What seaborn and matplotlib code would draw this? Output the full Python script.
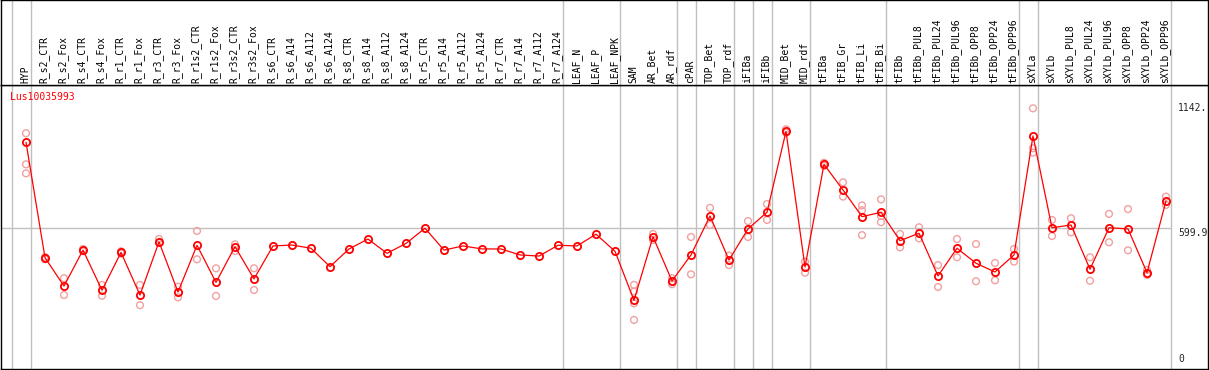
import matplotlib
matplotlib.use("Agg")
import matplotlib.pyplot as plt
import pandas as pd
import seaborn as sns

# sample names, mean expression and replicate values
samples = [
    "HYP", "R_s2_CTR", "R_s2_Fox", "R_s4_CTR", "R_s4_Fox", "R_r1_CTR", "R_r1_Fox",
    "R_r3_CTR", "R_r3_Fox", "R_r1s2_CTR", "R_r1s2_Fox", "R_r3s2_CTR", "R_r3s2_Fox",
    "R_s6_CTR", "R_s6_A14", "R_s6_A112", "R_s6_A124", "R_s8_CTR", "R_s8_A14",
    "R_s8_A112", "R_s8_A124", "R_r5_CTR", "R_r5_A14", "R_r5_A112", "R_r5_A124",
    "R_r7_CTR", "R_r7_A14", "R_r7_A112", "R_r7_A124", "LEAF_N", "LEAF_P", "LEAF_NPK",
    "SAM", "AR_Bet", "AR_rdf", "cPAR", "TOP_Bet", "TOP_rdf", "iFIBa", "iFIBb",
    "MID_Bet", "MID_rdf", "tFIBa", "tFIB_Gr", "tFIB_Li", "tFIB_Bi", "tFIBb",
    "tFIBb_PUL8", "tFIBb_PUL24", "tFIBb_PUL96", "tFIBb_OPP8", "tFIBb_OPP24",
    "tFIBb_OPP96", "sXYLa", "sXYLb", "sXYLb_PUL8", "sXYLb_PUL24", "sXYLb_PUL96",
    "sXYLb_OPP8", "sXYLb_OPP24", "sXYLb_OPP96",
]

mean_values = [
    973, 472, 349, 505, 331, 495, 310, 541, 323, 526, 365, 520, 380,
    523, 527, 513, 433, 510, 553, 491, 534, 600, 505, 523, 510,
    510, 484, 479, 526, 523, 574, 500,
    287, 563, 371, 484, 653, 462, 597, 669,
    1020, 432, 877, 766, 650, 669, 546,
    578, 393, 513, 448, 410, 484,
    1000, 602, 614, 422, 602, 597, 407, 718,
]

replicates = [
    [1012, 877, 838], [475, 466], [383, 310], [510, 500], [354, 307], [500, 490],
    [354, 266], [553, 536], [346, 300], [588, 465], [426, 306], [530, 501], [426, 332],
    [], [], [], [], [], [], [], [], [], [], [], [],
    [], [], [], [], [], [], [],
    [354, 325, 274, 202], [575, 549], [383, 357], [562, 400], [688, 614], [481, 440],
    [631, 562], [705, 636],
    [1029, 1014], [455, 407], [884, 870], [799, 737], [699, 678, 570], [725, 653, 626],
    [575, 517],
    [604, 556], [440, 345], [553, 474], [531, 370], [449, 374], [510, 455],
    [1120, 947, 928], [636, 566], [643, 582], [474, 372], [662, 539], [683, 504],
    [397, 419], [737, 701],
]

# group separators: after these sample positions
group_ends = [-1, 0, 28, 31, 34, 35, 37, 38, 39, 41, 45, 52, 53, 60]

gene_id = "Lus10035993"
axis_marks = [1142.0, 599.9]

mean_df = pd.DataFrame({"pos": range(len(samples)), "value": mean_values})
rep_df = pd.DataFrame(
    [(i, v) for i, reps in enumerate(replicates) for v in reps],
    columns=["pos", "value"],
)

W, H = 1209, 370
fig = plt.figure(figsize=(W / 100, H / 100), dpi=100)
sns.set_style("white")
plt.rcParams["font.family"] = ["DejaVu Sans Mono"]

grey = "#c0c0c0"
red = "#ff0000"
pink = "#f0a0a0"

xmin, xmax = (1 - 26) / 19, (1208 - 26) / 19
top_px, bot_px = 85, 369
ax = fig.add_axes([1 / W, (H - bot_px) / H, 1207 / W, (bot_px - top_px) / H])
hax = fig.add_axes([1 / W, (H - top_px) / H, 1207 / W, top_px / H])

# value -> pixel: y = 366.5 - 0.2305 * v
ymin = (366.5 - bot_px) / 0.2305
ymax = (366.5 - top_px) / 0.2305

for a in (ax, hax):
    a.set_xlim(xmin, xmax)
    a.set_xticks([])
    a.set_yticks([])
    for s in a.spines.values():
        s.set_color("black")
        s.set_linewidth(1.0)
    for g in group_ends:
        a.axvline(g + 0.25, color=grey, lw=1.0, zorder=0)
hax.set_ylim(0, 1)

ax.hlines(axis_marks[1], xmin, group_ends[-1] + 0.25, color=grey, lw=1.0, zorder=0)

sns.scatterplot(data=rep_df, x="pos", y="value", ax=ax, marker="o", s=24,
                facecolors="none", edgecolor=pink, linewidth=1.0, zorder=2)
sns.lineplot(data=mean_df, x="pos", y="value", ax=ax, color=red, lw=0.9,
             marker="o", markersize=5.2, markerfacecolor="none",
             markeredgecolor=red, markeredgewidth=1.3, zorder=3)
ax.set_xlabel("")
ax.set_ylabel("")
ax.set_xlim(xmin, xmax)
ax.set_ylim(ymin, ymax)

for i, name in enumerate(samples):
    hax.text(i - 0.05, 2 / top_px, name, rotation=90, ha="center", va="bottom",
             fontsize=7, color="black")

ax.text((10 - 1) / 1207, (bot_px - 97) / (bot_px - top_px), gene_id,
        transform=ax.transAxes, color=red, fontsize=7, ha="left", va="center")

lab_x = (1178 - 1) / 1207
tr = ax.get_yaxis_transform()
ax.text(lab_x, axis_marks[0], "%g." % axis_marks[0], transform=tr,
        fontsize=7, ha="left", va="top")
ax.text(lab_x, axis_marks[1], "%.1f" % axis_marks[1], transform=tr,
        fontsize=7, ha="left", va="top")
ax.text(lab_x, 12, "0", transform=tr, fontsize=7, ha="left", va="bottom")

fig.savefig("out.png", dpi=100)
